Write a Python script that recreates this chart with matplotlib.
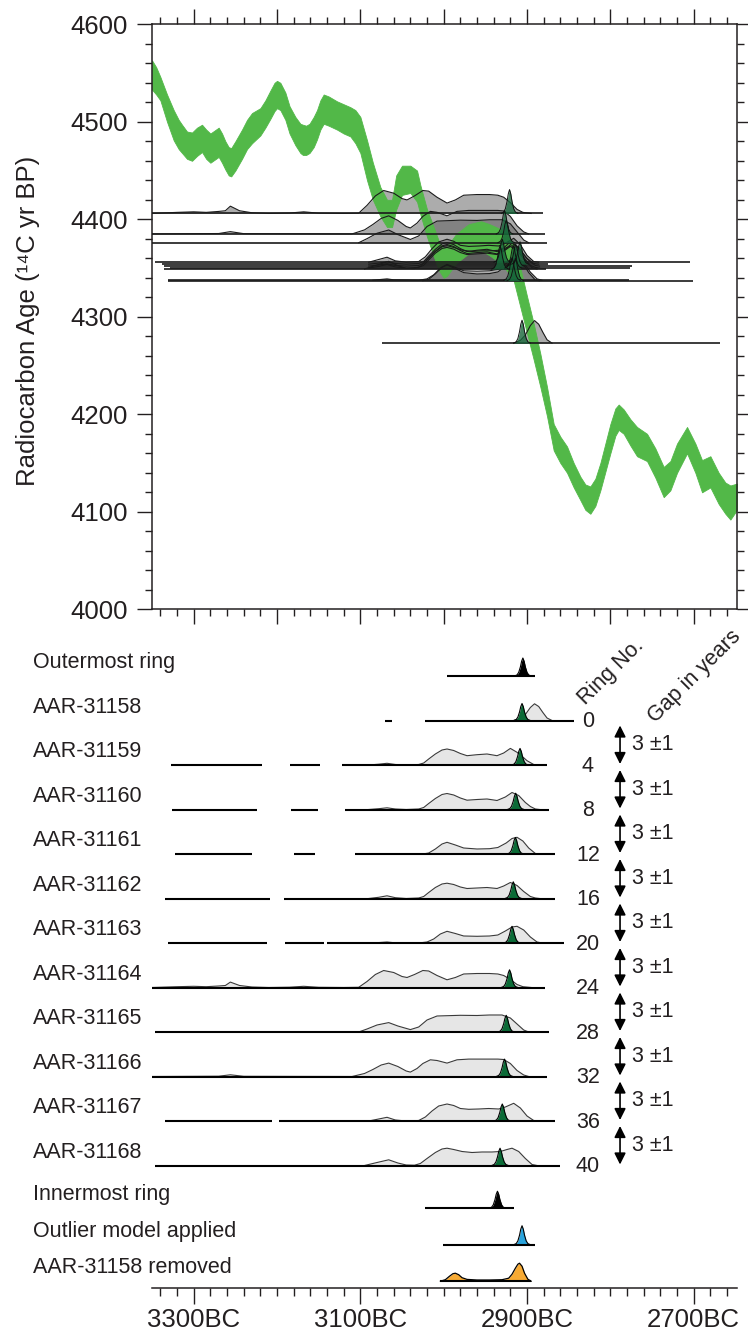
import numpy as np
import matplotlib
matplotlib.use("Agg")
import matplotlib.pyplot as plt
from matplotlib.ticker import MultipleLocator, FixedLocator, FuncFormatter
from matplotlib.transforms import blended_transform_factory

plt.rcParams['font.family'] = ['Liberation Sans', 'DejaVu Sans']
TXT = '#231f20'

# ---------------- data ----------------
# calibration curve band (years BC, 14C yr BP)
curve_year = [3350, 3345, 3340, 3332, 3324, 3318, 3314, 3308, 3302, 3296, 3290, 3285, 3280, 3275, 3270,
              3266, 3262, 3258, 3255, 3250, 3242, 3236, 3230, 3220, 3214, 3208, 3203, 3200, 3196, 3190,
              3185, 3178, 3172, 3169, 3165, 3161, 3156, 3152, 3148, 3144, 3138, 3128, 3120, 3112, 3106,
              3100, 3092, 3085, 3076, 3068, 3062, 3057, 3050, 3040, 3032, 3028, 3020, 3012, 3006, 3000,
              2996, 2985, 2970, 2955, 2945, 2932, 2924, 2916, 2908, 2900, 2892, 2884, 2876, 2868, 2860,
              2852, 2844, 2836, 2830, 2824, 2818, 2812, 2800, 2794, 2790, 2784, 2776, 2768, 2756, 2746,
              2736, 2728, 2720, 2708, 2698, 2690, 2680, 2670, 2662, 2656, 2648]
curve_upper = [4563, 4556, 4546, 4528, 4512, 4502, 4497, 4490, 4489, 4494, 4497, 4492, 4488, 4491, 4494,
               4488, 4480, 4474, 4473, 4480, 4492, 4502, 4509, 4514, 4522, 4532, 4540, 4542, 4540, 4530,
               4516, 4505, 4498, 4497, 4496, 4498, 4505, 4512, 4522, 4528, 4526, 4521, 4518, 4515, 4512,
               4505, 4481, 4458, 4433, 4420, 4420, 4445, 4455, 4455, 4450, 4435, 4410, 4392, 4378, 4370,
               4372, 4385, 4395, 4398, 4395, 4390, 4385, 4375, 4350, 4321, 4293, 4262, 4228, 4190, 4177,
               4167, 4150, 4136, 4128, 4126, 4134, 4150, 4190, 4206, 4210, 4205, 4195, 4187, 4180, 4165,
               4146, 4152, 4170, 4187, 4170, 4153, 4157, 4140, 4130, 4127, 4129]
curve_lower = [4533, 4528, 4522, 4500, 4481, 4472, 4468, 4462, 4460, 4465, 4469, 4462, 4458, 4461, 4464,
               4458, 4451, 4445, 4444, 4450, 4462, 4472, 4478, 4486, 4494, 4503, 4511, 4514, 4512, 4502,
               4488, 4476, 4468, 4466, 4466, 4468, 4474, 4482, 4492, 4498, 4496, 4492, 4488, 4485, 4478,
               4468, 4440, 4420, 4403, 4392, 4392, 4410, 4425, 4427, 4418, 4405, 4382, 4362, 4348, 4340,
               4342, 4355, 4365, 4368, 4363, 4355, 4347, 4337, 4310, 4283, 4256, 4228, 4198, 4163, 4150,
               4140, 4125, 4112, 4102, 4098, 4106, 4122, 4160, 4178, 4184, 4180, 4168, 4157, 4152, 4135,
               4115, 4122, 4140, 4160, 4140, 4120, 4125, 4108, 4098, 4092, 4102]

sample_names = ['AAR-31158', 'AAR-31159', 'AAR-31160', 'AAR-31161', 'AAR-31162', 'AAR-31163',
                'AAR-31164', 'AAR-31165', 'AAR-31166', 'AAR-31167', 'AAR-31168']
ring_no = [0, 4, 8, 12, 16, 20, 24, 28, 32, 36, 40]
c14_age = [4273, 4354, 4352, 4337, 4350, 4337.5, 4406, 4376, 4385, 4356, 4349]
# extent of the horizontal line of each sample in the upper panel (years BC)
top_line_start = [3074, 3338, 3336, 3331, 3328, 3331, 3350, 3350, 3350, 3346, 3336]
top_line_end = [2668, 2875, 2774, 2701, 2776, 2778, 2881, 2876, 2878, 2704, 2877]

# unmodelled (light grey) probability distributions: years BC and heights
d31158_yr = [2916, 2908, 2902, 2896, 2891, 2886, 2881, 2876, 2870]
d31158_h = [0, 2, 6, 13, 16.7, 14, 8, 2.5, 0]
d31159_yr = [3090, 3078, 3068, 3058, 3045, 3030, 3024, 3018, 3010, 3002, 2996, 2988, 2980, 2972, 2960,
             2948, 2936, 2928, 2920, 2912, 2905, 2900, 2892, 2886]
d31159_h = [0, 0.8, 1.7, 0.5, 0, 0.5, 2, 6, 11, 15, 16, 14.5, 11.5, 9.3, 10.3, 11, 9.3, 12, 16.6, 12.7,
            8, 4.3, 0.5, 0]
d31160_yr = [3090, 3078, 3068, 3058, 3045, 3030, 3024, 3018, 3010, 3002, 2996, 2988, 2980, 2972, 2960,
             2948, 2936, 2926, 2918, 2910, 2902, 2896, 2890, 2885]
d31160_h = [0, 0.8, 1.7, 0.5, 0, 0.5, 2, 6, 11, 15, 16, 14.5, 11.5, 9.3, 10, 10.5, 9, 12.5, 17, 14, 7,
            3, 0.5, 0]
d31161_yr = [3025, 3018, 3010, 3002, 2996, 2986, 2976, 2960, 2945, 2935, 2925, 2918, 2912, 2905, 2898,
             2890, 2885]
d31161_h = [0, 1, 5, 10, 11.7, 9, 6, 5, 5.3, 6.5, 11, 15.5, 16.7, 13, 6, 0.5, 0]
d31162_yr = [3090, 3078, 3068, 3058, 3045, 3030, 3024, 3018, 3010, 3002, 2996, 2988, 2980, 2972, 2960,
             2948, 2936, 2928, 2920, 2912, 2904, 2896, 2890, 2885]
d31162_h = [0, 1.2, 2.7, 0.8, 0, 0.5, 2, 6, 11, 14.5, 15.3, 14, 11.5, 10, 10.5, 11, 10, 12.5, 16, 13,
            7, 2, 0.5, 0]
d31163_yr = [3085, 3075, 3068, 3060, 3030, 3020, 3012, 3004, 2996, 2986, 2976, 2960, 2945, 2935, 2926,
             2918, 2912, 2904, 2896, 2888, 2882]
d31163_h = [0, 0.6, 1, 0.3, 0, 1, 4, 9, 11.7, 9.5, 7, 6.7, 7, 8, 12, 16, 16.7, 13, 6, 1, 0]
d31164_yr = [3350, 3320, 3300, 3285, 3270, 3262, 3256, 3245, 3230, 3210, 3185, 3168, 3150, 3120, 3102,
             3092, 3082, 3072, 3060, 3050, 3044, 3035, 3025, 3018, 3008, 2996, 2986, 2976, 2960, 2945,
             2935, 2928, 2920, 2912, 2905, 2895]
d31164_h = [0, 0.8, 1.2, 0.8, 1.5, 2, 5.4, 2, 0.5, 0, 0.3, 1.2, 0.2, 0, 0.2, 6, 13, 17, 15, 11, 10, 13,
            17, 16.5, 12, 7.7, 10, 13.5, 14, 14, 13.5, 12, 8, 3, 0.8, 0]
d31165_yr = [3102, 3092, 3080, 3066, 3055, 3040, 3030, 3020, 3008, 2996, 2980, 2960, 2945, 2930, 2920,
             2912, 2904, 2898]
d31165_h = [0, 3, 7, 9.4, 6, 2.4, 5, 12, 16, 16.3, 16.7, 16.5, 17, 17, 14, 8, 2, 0]
d31166_yr = [3350, 3270, 3256, 3240, 3110, 3095, 3085, 3075, 3066, 3055, 3045, 3040, 3032, 3025, 3016,
             3008, 2996, 2984, 2970, 2950, 2935, 2928, 2920, 2912, 2904, 2898]
d31166_h = [0, 0.3, 1.7, 0.2, 0, 3, 7, 11.5, 13.4, 10, 5.5, 4.4, 8, 13, 16.7, 16, 13.4, 16.7, 17.4,
            17.4, 17.4, 17, 13, 6, 1.5, 0]
d31167_yr = [3090, 3078, 3068, 3058, 3045, 3030, 3022, 3014, 3006, 2996, 2988, 2980, 2970, 2958, 2946,
             2934, 2926, 2916, 2908, 2900, 2892, 2886]
d31167_h = [0, 2, 3.7, 1, 0, 0.5, 4, 10, 15, 17, 15.5, 12.5, 11.7, 12, 12.5, 12, 14, 17.7, 13, 5, 0.5, 0]
d31168_yr = [3095, 3080, 3066, 3055, 3045, 3035, 3028, 3020, 3010, 3002, 2996, 2988, 2978, 2966, 2954,
             2942, 2932, 2924, 2918, 2910, 2902, 2894, 2888]
d31168_h = [0, 3, 5.7, 2.5, 0.5, 0.3, 2, 7, 13, 16.5, 17.3, 16, 14, 13, 13.5, 13.5, 14, 16, 17.3, 14, 7,
            1, 0]

# wiggle-matched (dark green) distributions: peak year BC and height
wm_peak_year = [2906, 2908.4, 2913.6, 2914, 2916.5, 2918, 2921, 2925, 2927, 2929.7, 2932.4]
wm_peak_h = [17, 16.6, 16.3, 16.6, 16.7, 16.7, 17.7, 16.7, 17.4, 17, 17.3]
# shape of a narrow peak (offset in years, relative height)
peak_dx = [-10, -7, -5, -3, -1.5, 0, 1.5, 3, 5, 7, 10]
peak_rel = [0, 0.06, 0.2, 0.5, 0.82, 1, 0.82, 0.5, 0.2, 0.06, 0]

# baseline segments in the lower panel (years BC)
seg_31158 = [(3070, 3062), (3022, 2844)]
seg_31159 = [(3327, 3218), (3184, 3149), (3122, 2876)]
seg_31160 = [(3326, 3224), (3183, 3151), (3118, 2874)]
seg_31161 = [(3322, 3230), (3180, 3154), (3107, 2867)]
seg_31162 = [(3334, 3208), (3192, 2866)]
seg_31163 = [(3331, 3212), (3190, 3144), (3140, 2856)]
seg_31164 = [(3350, 2878)]
seg_31165 = [(3347, 2874)]
seg_31166 = [(3350, 2876)]
seg_31167 = [(3335, 3206), (3198, 2866)]
seg_31168 = [(3346, 2861)]

# extra rows
outer_peak_year, outer_peak_h, outer_seg = 2905, 18, [(2996, 2890)]
inner_peak_year, inner_peak_h, inner_seg = 2935.5, 17, [(3023, 2916)]
outlier_peak_year, outlier_peak_h, outlier_seg = 2906, 19, [(3001, 2891)]
removed_yr = [3004, 2998, 2993, 2989, 2986, 2982, 2978, 2972, 2960, 2945, 2930, 2922, 2918, 2914, 2911,
              2909, 2906, 2903, 2899, 2895]
removed_h = [0, 1.5, 5, 7.5, 8, 6.5, 3.5, 1.8, 1.2, 1.2, 1.5, 3, 7, 13, 17, 18, 15, 8, 2, 0]
removed_seg = [(3004, 2895)]

gap_years = [3] * 10
gap_err = [1] * 10

row_labels = ['Outermost ring'] + sample_names + ['Innermost ring', 'Outlier model applied',
                                                  'AAR-31158 removed']
bottom_ticks = [3300, 3100, 2900, 2700]

# ---------------- layout ----------------
W, H = 748, 1330
fig = plt.figure(figsize=(W / 100, H / 100), dpi=100)


def px_axes(l, t, r, b):
    return [l / W, 1 - b / H, (r - l) / W, (b - t) / H]


ax1 = fig.add_axes(px_axes(151.7, 24.3, 736.7, 609.3))
ax2 = fig.add_axes(px_axes(151.7, 640, 736.7, 1288.3))
XL = (3350.4, 2648.4)
ROW_PX = 44.5
TOP_SCALE = 1.385
row_pos = list(range(12)) + [11.96, 12.78, 13.6]

gray_yr = [d31158_yr, d31159_yr, d31160_yr, d31161_yr, d31162_yr, d31163_yr, d31164_yr, d31165_yr,
           d31166_yr, d31167_yr, d31168_yr]
gray_h = [d31158_h, d31159_h, d31160_h, d31161_h, d31162_h, d31163_h, d31164_h, d31165_h, d31166_h,
          d31167_h, d31168_h]
segs = [seg_31158, seg_31159, seg_31160, seg_31161, seg_31162, seg_31163, seg_31164, seg_31165,
        seg_31166, seg_31167, seg_31168]

pdx = np.array(peak_dx)
prel = np.array(peak_rel)

# ---------------- upper panel ----------------
ax1.set_xlim(*XL)
ax1.set_ylim(4000, 4600)
ax1.fill_between(curve_year, curve_lower, curve_upper, color='#52b848', lw=0.6, edgecolor='#52b848',
                 zorder=2)
for i in range(len(sample_names)):
    base = c14_age[i]
    yr = np.array(gray_yr[i])
    hh = np.array(gray_h[i]) * TOP_SCALE
    ax1.fill_between(yr, base, base + hh, color='#5a5a5a', alpha=0.5, lw=0, zorder=1)
    ax1.plot(yr, base + hh, color='#1a1a1a', lw=0.8, zorder=3)
    ax1.hlines(base, top_line_start[i], top_line_end[i], color='#1a1a1a', lw=1.2, zorder=3)
for i in range(len(sample_names)):
    base = c14_age[i]
    px = wm_peak_year[i] + pdx
    ph = base + prel * wm_peak_h[i] * TOP_SCALE
    ax1.fill_between(px, base, ph, color='#17663a', alpha=0.8, lw=0, zorder=4)
    ax1.plot(px, ph, color='#111111', lw=0.7, zorder=5)

ax1.xaxis.set_major_locator(MultipleLocator(100))
ax1.xaxis.set_minor_locator(MultipleLocator(20))
ax1.yaxis.set_major_locator(MultipleLocator(100))
ax1.yaxis.set_minor_locator(MultipleLocator(20))
ax1.tick_params(which='both', direction='out', top=True, bottom=True, left=True, right=True,
                labelbottom=False, colors=TXT, width=1.0)
ax1.tick_params(which='major', length=10.5, labelsize=18.5, pad=6.5)
ax1.tick_params(which='minor', length=5.3)
for s in ax1.spines.values():
    s.set_linewidth(1.1)
    s.set_color(TXT)
fig.text(28 / W, 1 - 321 / H, 'Radiocarbon Age (¹⁴C yr BP)', rotation=90, ha='center', va='center',
         fontsize=18.5, color=TXT)

# ---------------- lower panel ----------------
ax2.set_xlim(*XL)
ax2.set_ylim((1288.3 - 676) / ROW_PX, (640 - 676) / ROW_PX)
for sp in ['left', 'right', 'top']:
    ax2.spines[sp].set_visible(False)
ax2.spines['bottom'].set_linewidth(1.1)
ax2.spines['bottom'].set_color(TXT)
ax2.set_yticks([])
ax2.xaxis.set_major_locator(FixedLocator(bottom_ticks))
ax2.xaxis.set_minor_locator(MultipleLocator(20))
ax2.xaxis.set_major_formatter(FuncFormatter(lambda v, p: f"{int(round(v))}BC"))
ax2.tick_params(which='both', direction='out', colors=TXT, width=1.0)
ax2.tick_params(which='major', length=11.3, labelsize=18.5, pad=3)
ax2.tick_params(which='minor', length=5.5)


def baseline(y0, seglist):
    for a, b in seglist:
        ax2.hlines(y0, a, b, color='black', lw=1.5, zorder=5)


def peak(y0, c, h, color):
    px = c + pdx
    ph = y0 - prel * h / ROW_PX
    ax2.fill_between(px, y0, ph, color=color, lw=0, zorder=3)
    ax2.plot(px, ph, color='black', lw=0.8, zorder=4)


# outermost ring
y = row_pos[0]
baseline(y, outer_seg)
peak(y, outer_peak_year, outer_peak_h, 'black')

for i in range(len(sample_names)):
    y = row_pos[i + 1]
    yr = np.array(gray_yr[i])
    hh = y - np.array(gray_h[i]) / ROW_PX
    ax2.fill_between(yr, y, hh, color='#e6e6e6', lw=0, zorder=1)
    ax2.plot(yr, hh, color='#3a3a3a', lw=0.8, zorder=2)
    peak(y, wm_peak_year[i], wm_peak_h[i], '#0b6b37')
    baseline(y, segs[i])

# innermost, outlier, removed
y = row_pos[12]
baseline(y, inner_seg)
peak(y, inner_peak_year, inner_peak_h, 'black')
y = row_pos[13]
baseline(y, outlier_seg)
peak(y, outlier_peak_year, outlier_peak_h, '#29a3dc')
y = row_pos[14]
rh = y - np.array(removed_h) / ROW_PX
ax2.fill_between(removed_yr, y, rh, color='#f7aa33', lw=0, zorder=3)
ax2.plot(removed_yr, rh, color='black', lw=0.9, zorder=4)
baseline(y, removed_seg)

# row labels
tr = blended_transform_factory(fig.transFigure, ax2.transData)
for lab, y in zip(row_labels, row_pos):
    ax2.text(33 / W, y - 0.3, lab, transform=tr, ha='left', va='center', fontsize=15.5, color=TXT)

# ring numbers
RING_X = 2827
for i, r in enumerate(ring_no):
    ax2.text(RING_X, row_pos[i + 1] + 0.03, str(r), ha='center', va='center', fontsize=15.5, color=TXT)

# gaps
ARROW_X = 2788.4
for i in range(len(gap_years)):
    y0 = row_pos[i + 1] + 5 / ROW_PX
    y1 = row_pos[i + 2] - 1 / ROW_PX
    ax2.annotate('', xy=(ARROW_X, y1), xytext=(ARROW_X, y0),
                 arrowprops=dict(arrowstyle='<|-|>', color='black', lw=1.2, mutation_scale=17,
                                 shrinkA=0, shrinkB=0))
    ax2.text(2774.6, (y0 + y1) / 2, f"{gap_years[i]} ±{gap_err[i]}", ha='left', va='center',
             fontsize=15.5, color=TXT)

fig.text(611 / W, 1 - 672 / H, 'Ring No.', rotation=45, ha='center', va='center', fontsize=15.5,
         color=TXT)
fig.text(695 / W, 1 - 677 / H, 'Gap in years', rotation=45, ha='center', va='center', fontsize=15.5,
         color=TXT)

fig.savefig('out.png', dpi=100)
